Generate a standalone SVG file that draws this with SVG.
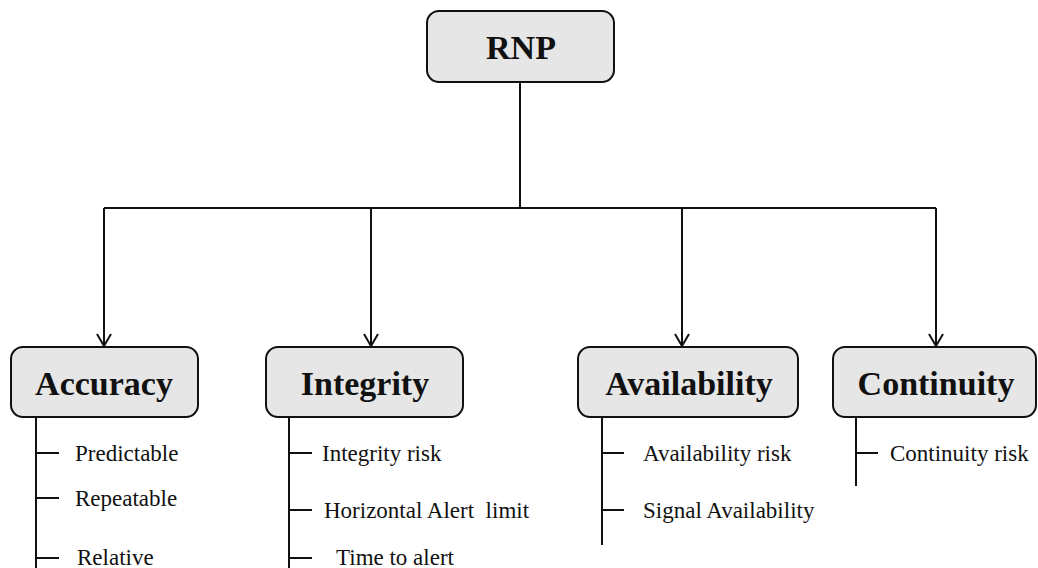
<svg xmlns="http://www.w3.org/2000/svg" width="1038" height="568" viewBox="0 0 1038 568">
  <style>
    .box { fill: #e6e6e6; stroke: #111; stroke-width: 2; }
    .title { font-family: "Liberation Serif", "Times New Roman", serif; font-weight: bold; font-size: 34px; fill: #111; text-anchor: middle; }
    .item { font-family: "Liberation Serif", "Times New Roman", serif; font-size: 23px; fill: #111; }
    .wire { fill: none; stroke: #111; stroke-width: 2; }
  </style>
  <defs>
    <!-- open V arrowhead drawn along +x, turned by the path direction -->
    <marker id="arrow" viewBox="0 0 14 16" refX="13" refY="8" markerWidth="14" markerHeight="16" markerUnits="userSpaceOnUse" orient="auto">
      <path d="M1,1 L13,8 L1,15" fill="none" stroke="#111" stroke-width="2"/>
    </marker>
  </defs>
  <rect width="1038" height="568" fill="#fff"/>

  <!-- tree connectors from the root to the four parameters -->
  <g id="connectors" class="wire">
    <path d="M520,82 V208"/>
    <path d="M104,208 H936"/>
    <path d="M104,208 V346" marker-end="url(#arrow)"/>
    <path d="M371,208 V346" marker-end="url(#arrow)"/>
    <path d="M682,208 V346" marker-end="url(#arrow)"/>
    <path d="M936,208 V346" marker-end="url(#arrow)"/>
  </g>

  <g id="rnp">
    <rect class="box" x="427" y="11" width="187" height="71" rx="12"/>
    <text class="title" x="521" y="59">RNP</text>
  </g>

  <g id="accuracy">
    <rect class="box" x="11" y="347" width="187" height="70" rx="12"/>
    <text class="title" x="104" y="395">Accuracy</text>
    <path class="wire" d="M36,417 V568 M36,453 H59 M36,498 H59 M36,558 H59"/>
    <text class="item" x="75" y="461">Predictable</text>
    <text class="item" x="75" y="506">Repeatable</text>
    <text class="item" x="77" y="565">Relative</text>
  </g>

  <g id="integrity">
    <rect class="box" x="266" y="347" width="197" height="70" rx="12"/>
    <text class="title" x="365" y="395">Integrity</text>
    <path class="wire" d="M289,417 V568 M289,453 H312 M289,510 H312 M289,558 H312"/>
    <text class="item" x="322" y="461">Integrity risk</text>
    <text class="item" x="324" y="518" xml:space="preserve">Horizontal Alert  limit</text>
    <text class="item" x="336" y="565">Time to alert</text>
  </g>

  <g id="availability">
    <rect class="box" x="578" y="347" width="220" height="70" rx="12"/>
    <text class="title" x="689" y="395">Availability</text>
    <path class="wire" d="M602,417 V545 M602,453 H624 M602,510 H624"/>
    <text class="item" x="643" y="461">Availability risk</text>
    <text class="item" x="643" y="518">Signal Availability</text>
  </g>

  <g id="continuity">
    <rect class="box" x="833" y="347" width="203" height="70" rx="12"/>
    <text class="title" x="936" y="395">Continuity</text>
    <path class="wire" d="M856,417 V486 M856,453 H878"/>
    <text class="item" x="890" y="461">Continuity risk</text>
  </g>
</svg>
